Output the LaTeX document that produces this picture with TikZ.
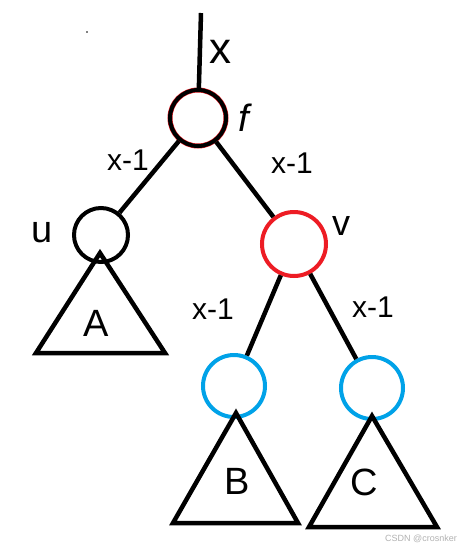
\documentclass[tikz,border=0pt]{standalone}
\usepackage{fontspec}
\setmainfont{Liberation Sans}
\definecolor{nred}{RGB}{237,28,36}
\definecolor{nblue}{RGB}{0,162,232}
\begin{document}
\begin{tikzpicture}[x=1pt,y=-1pt,
  edge/.style={line width=4.5pt},
  nd/.style={circle,draw,line width=4pt,inner sep=0pt},
  tri/.style={line width=4.5pt,line join=miter},
  lbl/.style={font=\fontsize{30}{30}\selectfont,inner sep=0pt},
  big/.style={font=\fontsize{38}{38}\selectfont,inner sep=0pt}]
\useasboundingbox (0,0) rectangle (463,550);
\fill[white] (0,0) rectangle (463,550);
% nodes
\node[nd,draw=nred,line width=5pt,minimum size=56pt] (rootr) at (198,118) {};
\node[nd,minimum size=56pt,line width=4pt] (root) at (198,118) {};
\node[nd,minimum size=54pt] (u) at (101,235) {};
\node[nd,draw=nred,minimum size=64pt] (v) at (294,244) {};
\node[nd,draw=nblue,minimum size=62pt] (b) at (234,386) {};
\node[nd,draw=nblue,minimum size=62pt] (c) at (372,388) {};
\coordinate (top) at (201,13);
% edges
\draw[edge] (top) -- (root);
\draw[edge] (root) -- (u);
\draw[edge] (root) -- (v);
\draw[edge] (v) -- (b);
\draw[edge] (v) -- (c);
% subtrees
\draw[tri] (100,253) -- (36,353) -- (165,353) -- cycle;
\draw[tri] (236,413) -- (173,523) -- (298,523) -- cycle;
\draw[tri] (372,416) -- (309,527) -- (437,527) -- cycle;
\node[big] (la) at (96,323) {A};
\node[big] (lb) at (237,481) {B};
\node[big] (lc) at (364,482) {C};
% labels
\node[font=\fontsize{44}{44}\selectfont,inner sep=0pt] (lx) at (220,52) {x};
\node[font=\fontsize{38}{38}\selectfont\itshape,inner sep=0pt] (lf) at (244,118) {f};
\node[font=\fontsize{38}{38}\selectfont,inner sep=0pt] (lu) at (42,233) {u};
\node[font=\fontsize{36}{36}\selectfont,inner sep=0pt] (lv) at (341,226) {v};
\node[lbl] (e1) at (128,160) {x-1};
\node[lbl] (e2) at (292,163) {x-1};
\node[lbl] (e3) at (213,309) {x-1};
\node[lbl] (e4) at (373,307) {x-1};
\fill (87,32) circle (0.8pt);
\node[font=\fontsize{9}{9}\selectfont,text=black!30,inner sep=0pt] (wm) at (421,539) {CSDN @crosnker};
\end{tikzpicture}
\end{document}
